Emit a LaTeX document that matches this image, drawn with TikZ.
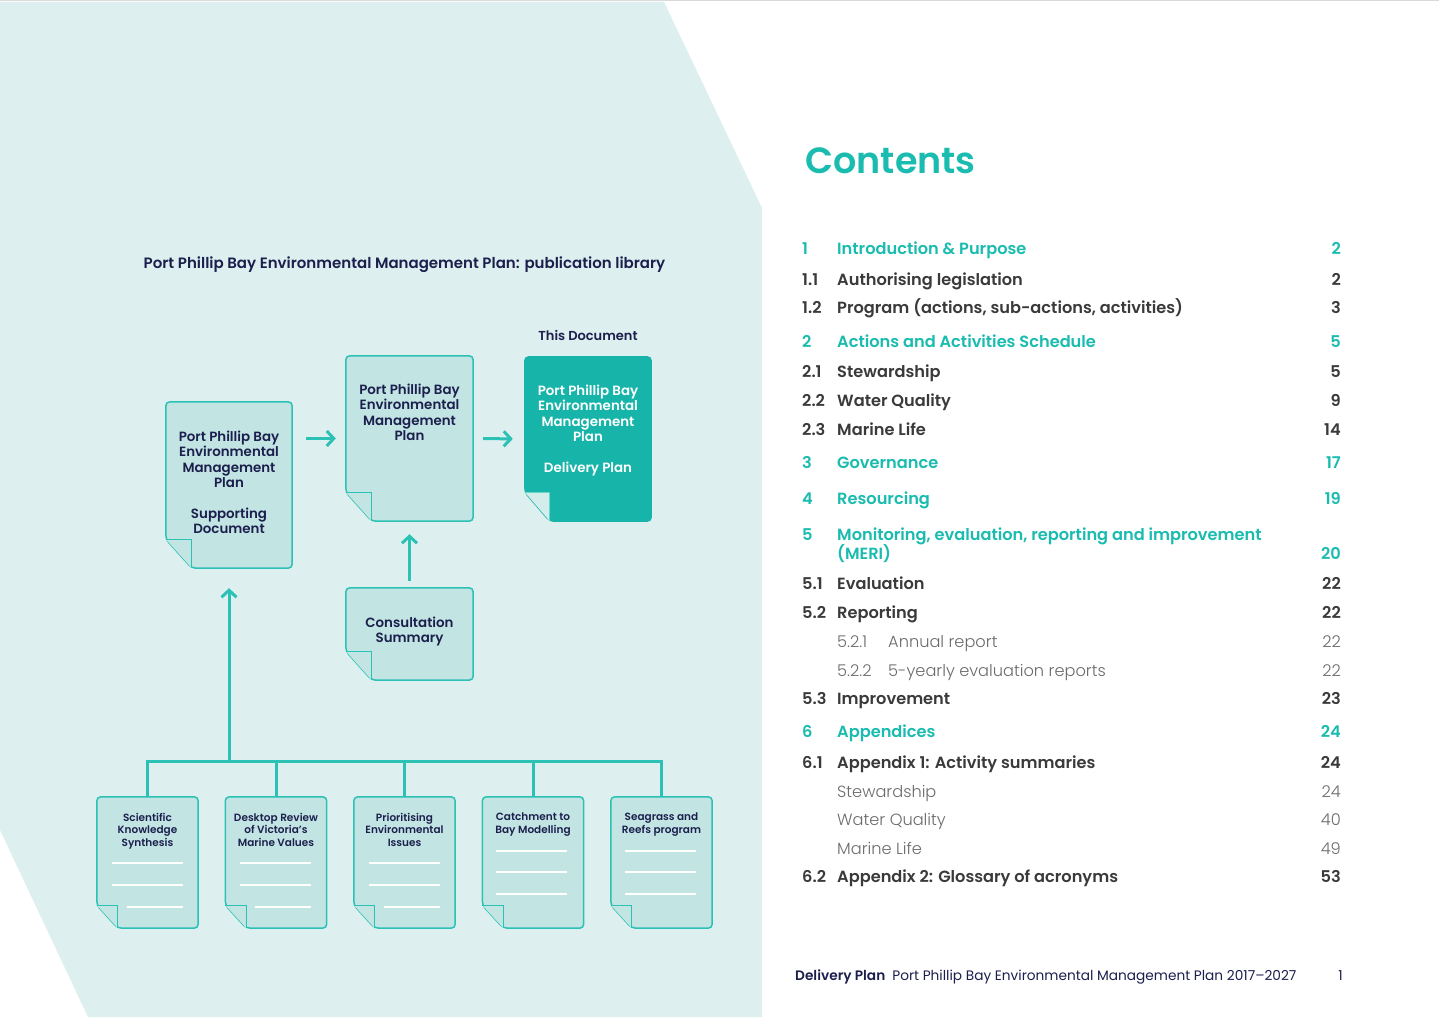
\documentclass[tikz,border=0pt]{standalone}
\usepackage{fontspec}
\usetikzlibrary{positioning,calc,arrows.meta}
\IfFontExistsTF{Poppins SemiBold}{\setmainfont{Poppins}[BoldFont={Poppins SemiBold}]}{\setmainfont{Poppins}}
\IfFontExistsTF{Poppins SemiBold}{\newfontfamily\headfont{Poppins SemiBold}}{\newcommand\headfont{\bfseries}}
\IfFontExistsTF{Poppins Light}{\newfontfamily\lightfont{Poppins Light}}{\newcommand\lightfont{\mdseries}}

\definecolor{bgteal}{HTML}{DDF0EF}
\definecolor{docfill}{HTML}{C2E5E3}
\definecolor{edge}{HTML}{2BC1B4}
\definecolor{deep}{HTML}{17B4A9}
\definecolor{flap}{HTML}{D3EDEB}
\definecolor{navy}{HTML}{1C1F4D}
\definecolor{headteal}{HTML}{1ABCB0}
\definecolor{darktext}{HTML}{3A3A3A}
\definecolor{greytext}{HTML}{6B6B6B}

\begin{document}
\begin{tikzpicture}[x=1pt, y=1pt,
	doc/.style={rectangle, inner sep=0pt, minimum width=126pt, minimum height=165pt},
	small doc/.style={doc, minimum width=101pt, minimum height=131pt},
	doctext/.style={inner sep=0pt, align=center, text=navy, font=\bfseries\fontsize{13.4}{15.3}\selectfont},
	small text/.style={doctext, font=\bfseries\fontsize{10.5}{12.4}\selectfont},
	body/.style={line width=1.5pt, draw=edge, fill=docfill, rounded corners=4pt},
	link/.style={line width=3pt, draw=edge},
	flow/.style={link, -{Straight Barb[length=7pt, width=15pt]}},
	paper/.style={draw=white, line width=2pt},
	tealrow/.style={text=headteal, font=\bfseries\fontsize{16.2}{19}\selectfont},
	darkrow/.style={text=darktext, font=\bfseries\fontsize{16.2}{19}\selectfont},
	lightrow/.style={text=greytext, font=\lightfont\fontsize{16.2}{19}\selectfont}]
	\useasboundingbox (0,0) rectangle (1439,1017);

	% page background
	\fill[white] (0,0) rectangle (1439,1017);
	\fill[bgteal] (0,1015) -- (664,1015) -- (762,809) -- (762,0) -- (88,0) -- (0,187) -- cycle;
	\fill[black!15] (0,1015.5) rectangle (1439,1017);

	% documents
	\node (supp) [doc, minimum height=166pt] at (229,532) {};
	\node (emp) [doc, minimum width=127pt] at (409.5,578.5) {};
	\node (deliv) [doc, minimum height=164pt] at (588,578) {};
	\node (consult) [doc, minimum width=127pt, minimum height=92pt] at (409.5,383) {};
	\foreach \n [count=\i from 0] in {sci,desk,prio,catch,seag}
		\node (\n) [small doc] at (147.5+128.5*\i,154.5) {};

	\foreach \n/\fw/\fh in {supp/26/29, emp/26/29, consult/26/29, sci/21/23, desk/21/23, prio/21/23, catch/21/23, seag/21/23} {
		\draw[body] ($(\n.south west)+(\fw,0)$) -- (\n.south east) -- (\n.north east) -- (\n.north west) -- ($(\n.south west)+(0,\fh)$) -- cycle;
		\draw[draw=edge, line width=1pt, fill=docfill] ($(\n.south west)+(0,\fh)$) -| ($(\n.south west)+(\fw,0)$);
	}
	\draw[body, draw=deep, fill=deep] ($(deliv.south west)+(25,0)$) -- (deliv.south east) -- (deliv.north east) -- (deliv.north west) -- ($(deliv.south west)+(0,29)$) -- cycle;
	\draw[draw=edge!70, line width=0.8pt, fill=flap] ($(deliv.south west)+(0,29)$) -| ($(deliv.south west)+(25,0)$);

	% ruled lines on the small pages
	\foreach \n in {sci,desk,prio} {
		\draw[paper] ($(\n.north west)+(15,-66)$) -- ++(71,0);
		\draw[paper] ($(\n.north west)+(15,-88)$) -- ++(71,0);
		\draw[paper] ($(\n.north west)+(30,-110)$) -- ++(56,0);
	}
	\foreach \n in {catch,seag}
		\foreach \dy in {54,75,97}
			\draw[paper] ($(\n.north west)+(14,-\dy)$) -- ++(71,0);

	% page titles
	\node (supp-t) [doctext, below=29pt of supp.north] {Port Phillip Bay\\Environmental\\Management\\Plan\\[15.3pt]Supporting\\Document};
	\node (emp-t) [doctext, below=28pt of emp.north] {Port Phillip Bay\\Environmental\\Management\\Plan};
	\node (deliv-t) [doctext, text=white, below=28pt of deliv.north] {Port Phillip Bay\\Environmental\\Management\\Plan\\[15.3pt]Delivery Plan};
	\node (consult-t) [doctext, below=29pt of consult.north] {Consultation\\Summary};
	\node (sci-t) [small text, below=16pt of sci.north] {Scientific\\Knowledge\\Synthesis};
	\node (desk-t) [small text, below=16pt of desk.north] {Desktop Review\\of Victoria’s\\Marine Values};
	\node (prio-t) [small text, below=16pt of prio.north] {Prioritising\\Environmental\\Issues};
	\node (catch-t) [small text, below=16pt of catch.north] {Catchment to\\Bay Modelling};
	\node (seag-t) [small text, below=16pt of seag.north] {Seagrass and\\Reefs program};

	% connectors
	\coordinate (bus) at (229,255);
	\draw[link] (sci.north) |- (bus) -| (seag.north);
	\foreach \n in {desk,prio,catch}
		\draw[link] (\n.north) -- (\n.north |- bus);
	\draw[flow, shorten >=20pt] (bus) -- (supp.south);
	\draw[flow, shorten <=14pt, shorten >=10pt] (supp.east |- emp.west) -- (emp.west);
	\draw[flow, shorten <=10pt, shorten >=12pt] (emp.east) -- (deliv.west);
	\draw[flow, shorten <=7pt, shorten >=13pt] (consult.north) -- (emp.south);

	% captions
	\node (library) [anchor=base, text=navy, font=\bfseries\fontsize{15}{17}\selectfont] at (404.5,748.7) {Port Phillip Bay Environmental Management Plan: publication library};
	\node (this-doc) [anchor=base, text=navy, font=\bfseries\fontsize{13}{15}\selectfont] at (588,676) {This Document};

	% contents list
	\node (contents) [anchor=base west, text=headteal, font=\headfont\fontsize{36.5}{40}\selectfont] at (802,843) {Contents};
	\foreach \yb/\nx/\num/\tx/\title/\pg/\rs [count=\k] in {
		254.5/802/1/837/{Introduction \& Purpose}/2/tealrow,
		285.5/802/1.1/837/{Authorising legislation}/2/darkrow,
		313.5/802/1.2/837/{Program (actions, sub-actions, activities)}/3/darkrow,
		347.5/802/2/837/{Actions and Activities Schedule}/5/tealrow,
		377.5/802/2.1/837/{Stewardship}/5/darkrow,
		406.5/802/2.2/837/{Water Quality}/9/darkrow,
		435.5/802/2.3/837/{Marine Life}/14/darkrow,
		468.5/802/3/837/{Governance}/17/tealrow,
		504.5/802/4/837/{Resourcing}/19/tealrow,
		540.5/802/5/837/{Monitoring, evaluation, reporting and improvement}//tealrow,
		559.5/802//837/{(MERI)}/20/tealrow,
		589.5/802/5.1/837/{Evaluation}/22/darkrow,
		618.5/802/5.2/837/{Reporting}/22/darkrow,
		647.5/837/5.2.1/888/{Annual report}/22/lightrow,
		676.5/837/5.2.2/888/{5-yearly evaluation reports}/22/lightrow,
		704.5/802/5.3/837/{Improvement}/23/darkrow,
		737.5/802/6/837/{Appendices}/24/tealrow,
		768.5/802/6.1/837/{Appendix 1: Activity summaries}/24/darkrow,
		797.5/802//837/{Stewardship}/24/lightrow,
		825.5/802//837/{Water Quality}/40/lightrow,
		854.5/802//837/{Marine Life}/49/lightrow,
		882.5/802/6.2/837/{Appendix 2: Glossary of acronyms}/53/darkrow} {
		\node (num\k) [\rs, anchor=base west, inner sep=0pt] at (\nx,1017-\yb) {\num};
		\node (entry\k) [\rs, anchor=base west, inner sep=0pt] at (\tx,1017-\yb) {\title};
		\node (page\k) [\rs, anchor=base east, inner sep=0pt] at (1341,1017-\yb) {\pg};
	}

	% footer
	\node (footer) [anchor=base west, inner sep=0pt, text=navy, font=\fontsize{13.7}{15}\selectfont] at (795,36.5) {\textbf{Delivery Plan}\hspace{7pt}Port Phillip Bay Environmental Management Plan 2017--2027};
	\node (folio) [anchor=base east, inner sep=0pt, text=navy, font=\fontsize{13.7}{15}\selectfont] at (1343,36.5) {1};
\end{tikzpicture}
\end{document}
